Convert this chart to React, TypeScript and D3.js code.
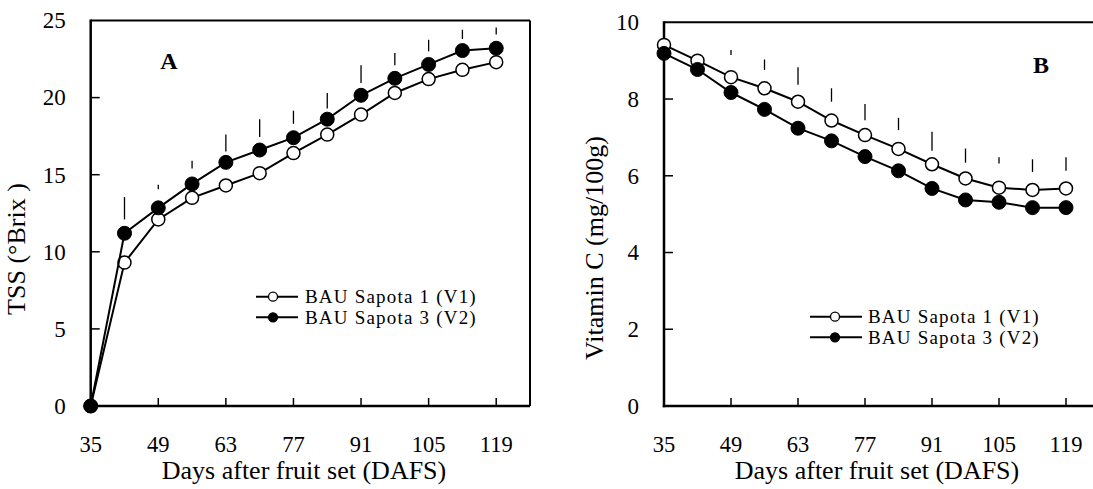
import React, { useRef, useEffect } from 'react';
import * as d3 from 'd3';

// sampling days (DAFS)
const days = [35, 42, 49, 56, 63, 70, 77, 84, 91, 98, 105, 112, 119];
const xTicks = [35, 49, 63, 77, 91, 105, 119];

// panel A - TSS (°Brix)
const tssV1 = [0, 9.3, 12.1, 13.5, 14.3, 15.1, 16.4, 17.6, 18.9, 20.3, 21.2, 21.8, 22.3];
const tssV2 = [0, 11.2, 12.85, 14.4, 15.8, 16.6, 17.4, 18.6, 20.15, 21.25, 22.15, 23.05, 23.2];
const tssBarLow = [null, 12.1, 14.05, 15.4, 16.5, 17.45, 18.3, 19.3, 20.95, 22.1, 23.0, 23.8, 24.1];
const tssBarHigh = [null, 13.55, 14.35, 15.9, 17.6, 18.6, 19.15, 20.3, 22.1, 22.9, 23.75, 24.4, 24.55];
const tssTicks = [0, 5, 10, 15, 20, 25];

// panel B - Vitamin C (mg/100g)
const vitV1 = [9.41, 9.0, 8.57, 8.28, 7.93, 7.44, 7.06, 6.7, 6.3, 5.93, 5.69, 5.63, 5.67];
const vitV2 = [9.19, 8.77, 8.17, 7.73, 7.24, 6.91, 6.5, 6.13, 5.67, 5.37, 5.31, 5.17, 5.17];
const vitBarLow = [null, null, 9.15, 8.76, 8.37, 7.93, 7.45, 7.19, 6.65, 6.34, 6.32, 6.1, 6.13];
const vitBarHigh = [null, null, 9.28, 9.03, 8.83, 8.28, 7.87, 7.51, 7.15, 6.71, 6.48, 6.43, 6.48];
const vitTicks = [0, 2, 4, 6, 8, 10];

const seriesNames = ['BAU Sapota 1 (V1)', 'BAU Sapota 3 (V2)'];

const FONT = '"Liberation Serif", "Times New Roman", serif';

const panels = [
  {
    left: 90.7, right: 530, top: 20.5, bottom: 406,
    yMax: 25, yTicks: tssTicks, v1: tssV1, v2: tssV2, lo: tssBarLow, hi: tssBarHigh,
    yTitle: 'TSS (°Brix )', yTitleX: 25, yTitleY: 249, xTitleX: 304,
    tag: 'A', tagX: 169, tagY: 69,
    legend: { x0: 256, mx: 273, x1: 298, tx: 305, y: [296.7, 317.3] },
    rightBorder: true,
  },
  {
    left: 664, right: 1099.5, top: 22.3, bottom: 406,
    yMax: 10, yTicks: vitTicks, v1: vitV1, v2: vitV2, lo: vitBarLow, hi: vitBarHigh,
    yTitle: 'Vitamin C (mg/100g)', yTitleX: 603, yTitleY: 248, xTitleX: 877,
    tag: 'B', tagX: 1041, tagY: 73,
    legend: { x0: 810, mx: 835, x1: 862, tx: 868, y: [316.7, 337.3] },
    rightBorder: false,
  },
];

const App = () => {
  const svgRef = useRef(null);

  useEffect(() => {
    const svgEl = svgRef.current;
    if (!svgEl) return;
    d3.select(svgEl).selectAll('*').remove();

    const svg = d3.select(svgEl);

    panels.forEach(p => {
      const g = svg.append('g');
      const x = d3.scaleLinear().domain([35, 126]).range([p.left, p.right]);
      const y = d3.scaleLinear().domain([0, p.yMax]).range([p.bottom, p.top]);

      // frame
      g.append('line').attr('x1', p.left).attr('x2', p.right).attr('y1', p.top).attr('y2', p.top)
        .attr('stroke', '#000').attr('stroke-width', 2);
      if (p.rightBorder) {
        g.append('line').attr('x1', p.right).attr('x2', p.right).attr('y1', p.top).attr('y2', p.bottom)
          .attr('stroke', '#000').attr('stroke-width', 2);
      }
      g.append('line').attr('x1', p.left).attr('x2', p.left).attr('y1', p.top - 1).attr('y2', p.bottom + 1.25)
        .attr('stroke', '#000').attr('stroke-width', 2.5);
      g.append('line').attr('x1', p.left - 1.25).attr('x2', p.right).attr('y1', p.bottom).attr('y2', p.bottom)
        .attr('stroke', '#000').attr('stroke-width', 2.5);

      // y ticks (inside) and labels
      p.yTicks.forEach(t => {
        if (t > 0 && t < p.yMax) {
          g.append('line').attr('x1', p.left).attr('x2', p.left + 9).attr('y1', y(t)).attr('y2', y(t))
            .attr('stroke', '#000').attr('stroke-width', 1.5);
        }
        g.append('text').attr('x', p.left - 25).attr('y', y(t)).attr('dy', '0.34em')
          .attr('text-anchor', 'end').style('font-family', FONT).style('font-size', '23px')
          .text(t);
      });

      // x ticks (inside) and labels
      xTicks.forEach(t => {
        if (t > 35) {
          g.append('line').attr('x1', x(t)).attr('x2', x(t)).attr('y1', p.bottom).attr('y2', p.bottom - 8)
            .attr('stroke', '#000').attr('stroke-width', 1.5);
        }
        g.append('text').attr('x', x(t)).attr('y', 452)
          .attr('text-anchor', 'middle').style('font-family', FONT).style('font-size', '22.5px')
          .text(t);
      });

      // axis titles
      g.append('text').attr('x', p.xTitleX).attr('y', 479).attr('text-anchor', 'middle')
        .style('font-family', FONT).style('font-size', '26px').text('Days after fruit set (DAFS)');
      g.append('text').attr('transform', `translate(${p.yTitleX},${p.yTitleY}) rotate(-90)`)
        .attr('text-anchor', 'middle').style('font-family', FONT).style('font-size', '26px')
        .text(p.yTitle);

      // panel tag
      g.append('text').attr('x', p.tagX).attr('y', p.tagY).attr('text-anchor', 'middle')
        .style('font-family', FONT).style('font-size', '24px').style('font-weight', 'bold').text(p.tag);

      // error bars
      days.forEach((d, i) => {
        if (p.lo[i] == null) return;
        g.append('line').attr('x1', x(d)).attr('x2', x(d)).attr('y1', y(p.lo[i])).attr('y2', y(p.hi[i]))
          .attr('stroke', '#000').attr('stroke-width', 1.3);
      });

      const line = d3.line().x(d => x(d[0])).y(d => y(d[1]));

      // V1 open, then V2 filled on top
      [p.v1, p.v2].forEach((vals, si) => {
        const pts = days.map((d, i) => [d, vals[i]]);
        g.append('path').attr('d', line(pts)).attr('fill', 'none')
          .attr('stroke', '#000').attr('stroke-width', 2);
        g.selectAll(null).data(pts).join('circle')
          .attr('cx', d => x(d[0])).attr('cy', d => y(d[1]))
          .attr('r', si === 0 ? 6.5 : 7)
          .attr('fill', si === 0 ? '#fff' : '#000')
          .attr('stroke', '#000').attr('stroke-width', si === 0 ? 1.5 : 1);
      });

      // legend
      const L = p.legend;
      seriesNames.forEach((name, si) => {
        const ly = L.y[si];
        g.append('line').attr('x1', L.x0).attr('x2', L.x1).attr('y1', ly).attr('y2', ly)
          .attr('stroke', '#000').attr('stroke-width', 2);
        g.append('circle').attr('cx', L.mx).attr('cy', ly).attr('r', 4.5)
          .attr('fill', si === 0 ? '#fff' : '#000').attr('stroke', '#000').attr('stroke-width', 1.3);
        g.append('text').attr('x', L.tx).attr('y', ly).attr('dy', '0.33em')
          .style('font-family', FONT).style('font-size', '19px').style('letter-spacing', '1.2px')
          .text(name);
      });
    });
  }, []);

  return (
    <div style={{ position: 'absolute', left: 0, top: 0, width: 1093, height: 489, background: '#fff' }}>
      <svg ref={svgRef} width={1093} height={489} style={{ display: 'block' }}></svg>
    </div>
  );
};

export default App;
